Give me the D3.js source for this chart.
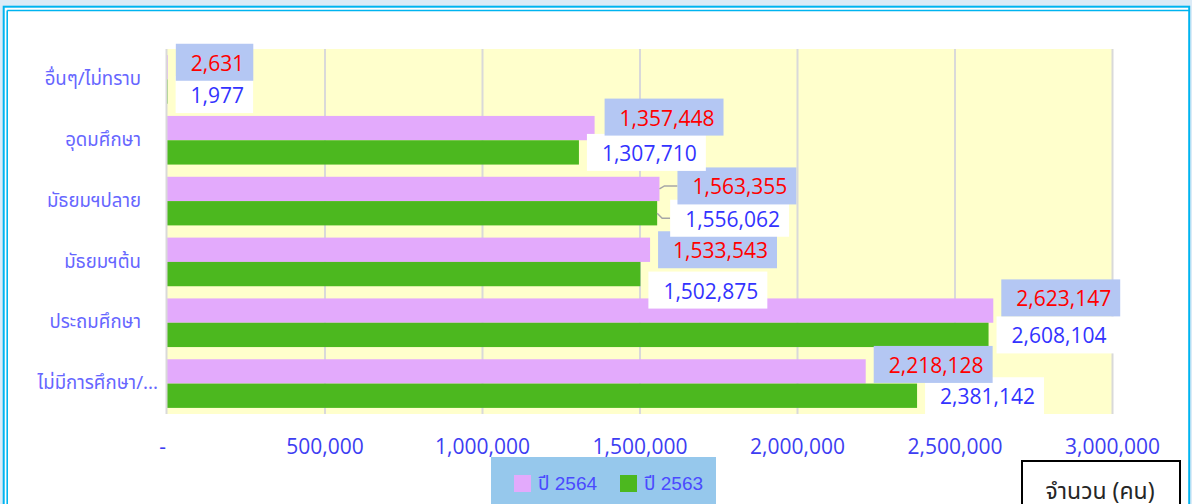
<!DOCTYPE html>
<html><head><meta charset="utf-8">
<script src="https://cdn.jsdelivr.net/npm/d3@7"></script>
<style>
html,body{margin:0;padding:0;background:#dcebf7;}
svg{display:block;}
</style></head>
<body>
<svg id="chart" width="1192" height="504"></svg>
<script>
// ---- data ----
const categories = ["อื่นๆ/ไม่ทราบ","อุดมศึกษา","มัธยมฯปลาย","มัธยมฯต้น","ประถมศึกษา","ไม่มีการศึกษา/..."];
const seriesNames = ["ปี 2564","ปี 2563"];
const values2564 = [2631, 1357448, 1563355, 1533543, 2623147, 2218128];
const values2563 = [1977, 1307710, 1556062, 1502875, 2608104, 2381142];
const xTicks = [0, 500000, 1000000, 1500000, 2000000, 2500000, 3000000];
const axisTitle = "จำนวน (คน)";

// ---- layout ----
const W = 1192, H = 504;
const plot = {left:167, right:1112, top:49, bottom:414};
const colors = ["#e3aafc", "#4cb81f"];
const labelFill = ["#b4c7f3", "#ffffff"];
const labelText = ["#ff0000", "#3333ff"];
// manual label nudges (dx, dy) in px, per series per category
const nudge = [
  [[0,-5],[2,-11],[10,-3],[0,0],[0,-12.7],[0,-7]],
  [[0,3],[0,0],[5,5],[0,16],[0,0],[0,0]]
];
const numFont = "'Open Sans', sans-serif";
const thaiFont = "Tahoma, 'Noto Sans Thai', 'Leelawadee UI', sans-serif";

const svg = d3.select("#chart");

// frame
svg.append("rect").attr("x",0).attr("y",0).attr("width",W).attr("height",H).attr("fill","#dcebf7");
svg.append("rect").attr("x",3.7).attr("y",6.7).attr("width",1185.5).attr("height",H).attr("fill","#ffffff")
  .attr("stroke","#00b4f0").attr("stroke-width",2);
svg.append("line").attr("x1",7.2).attr("x2",7.2).attr("y1",10.5).attr("y2",H).attr("stroke","#00b4f0").attr("stroke-width",1.6);
svg.append("line").attr("x1",7.2).attr("x2",1189).attr("y1",10.5).attr("y2",10.5).attr("stroke","#00b4f0").attr("stroke-width",1.6);

const x = d3.scaleLinear().domain([0,3000000]).range([plot.left, plot.right]);
const y = d3.scaleBand().domain(categories).range([plot.top, plot.bottom]).padding(0);
const ys = d3.scaleBand().domain(seriesNames).range([6.1, y.bandwidth()-6.1]).padding(0);

// plot background
svg.append("rect").attr("x",plot.left).attr("y",plot.top).attr("width",plot.right-plot.left)
  .attr("height",plot.bottom-plot.top).attr("fill","#ffffcc");

// gridlines via axis
const gx = svg.append("g").attr("transform",`translate(0,${plot.bottom})`)
  .call(d3.axisBottom(x).tickValues(xTicks).tickSize(-(plot.bottom-plot.top)).tickFormat(""));
gx.select(".domain").remove();
gx.selectAll(".tick line").attr("stroke","#d9d9d9").attr("stroke-width",2);
gx.selectAll(".tick").filter(d=>d===0).remove();

// tick labels
const gl = svg.append("g").attr("transform",`translate(0,${plot.bottom})`)
  .call(d3.axisBottom(x).tickValues(xTicks).tickSize(0).tickPadding(0)
    .tickFormat(d => d===0 ? "-" : d3.format(",")(d)));
gl.select(".domain").remove();
gl.selectAll(".tick text").attr("font-family",numFont).attr("font-size","21px")
  .attr("fill","#3d3df2").attr("dy",null).attr("y",39.5)
  .attr("dx", d => d===0 ? -5 : 0);

// bars
const data = categories.map((c,i)=>({cat:c, vals:[values2564[i], values2563[i]]}));
const groups = svg.append("g").selectAll("g").data(data).join("g")
  .attr("transform", d=>`translate(0,${y(d.cat)})`);
groups.selectAll("rect").data(d=>d.vals.map((v,s)=>({v,s}))).join("rect")
  .attr("x", x(0)).attr("y", d=>ys(seriesNames[d.s]))
  .attr("width", d=>x(d.v)-x(0)).attr("height", ys.bandwidth())
  .attr("fill", d=>colors[d.s]);

// y axis line
svg.append("line").attr("x1",166.5).attr("x2",166.5).attr("y1",plot.top).attr("y2",plot.bottom)
  .attr("stroke","#d9d9d9").attr("stroke-width",2);

// category labels
const ga = svg.append("g").attr("transform",`translate(141,0)`)
  .call(d3.axisLeft(y).tickSize(0).tickPadding(0));
ga.select(".domain").remove();
ga.selectAll(".tick text").attr("font-family",thaiFont).attr("font-size","18.6px")
  .attr("fill","#6666ff").attr("dy","0.3em").attr("x", d => d.endsWith("...") ? 17 : 0);

// data labels
const fmt = d3.format(",");
const labelLayer = svg.append("g");
const order = d3.range(categories.length).reverse();
order.forEach(ci => {
  [1,0].forEach(s => {
    const v = s===0 ? values2564[ci] : values2563[ci];
    const [dx,dy] = nudge[s][ci];
    const barEnd = x(v);
    const barCy = y(categories[ci]) + ys(seriesNames[s]) + ys.bandwidth()/2;
    const bx = barEnd + 8 + dx;
    const cy = barCy + dy;
    const g = labelLayer.append("g");
    if (dx > 3) {
      g.append("path").attr("d",`M${barEnd},${barCy} L${barEnd+5},${cy} L${bx},${cy}`)
        .attr("fill","none").attr("stroke","#a6a6a6").attr("stroke-width",1.5);
    }
    const r = g.append("rect").attr("fill",labelFill[s]);
    const t = g.append("text").text(fmt(v)).attr("font-family",numFont).attr("font-size","21px")
      .attr("fill",labelText[s]).attr("x",bx+15).attr("y",cy+1).attr("dy","0.36em");
    const tw = t.node().getComputedTextLength();
    r.attr("x",bx).attr("y",cy-18.5).attr("width",tw+24).attr("height",37);
  });
});

// legend
const leg = svg.append("g");
leg.append("rect").attr("x",491).attr("y",457).attr("width",225).attr("height",60).attr("fill","#96c8ec");
const legX = [514, 620];
seriesNames.forEach((n,i)=>{
  leg.append("rect").attr("x",legX[i]).attr("y",475).attr("width",17).attr("height",17).attr("fill",colors[i]);
  leg.append("text").text(n).attr("x",legX[i]+24).attr("y",490)
    .attr("font-family","'Liberation Sans', Arial, "+thaiFont).attr("font-size","19px").attr("fill","#4a4aff");
});

// axis title box
svg.append("rect").attr("x",1022).attr("y",461).attr("width",158).attr("height",60)
  .attr("fill","#ffffff").attr("stroke","#000000").attr("stroke-width",2);
svg.append("text").text(axisTitle).attr("x",1100).attr("y",499).attr("text-anchor","middle")
  .attr("font-family",thaiFont).attr("font-size","23px").attr("fill","#262626");
</script>
</body></html>
